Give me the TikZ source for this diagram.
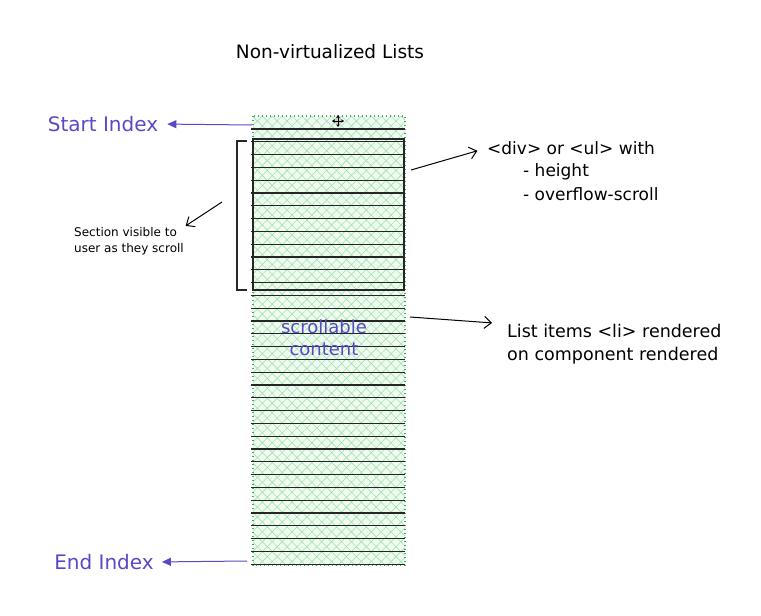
\documentclass[tikz,border=0pt]{standalone}
\usepackage{fontspec}
\setmainfont{DejaVu Sans}
\usepackage{xcolor}
\usetikzlibrary{arrows.meta,patterns.meta}

\definecolor{indexviolet}{RGB}{92,72,196}
\definecolor{listfill}{RGB}{240,251,242}
\definecolor{hatchgreen}{RGB}{160,228,172}
\definecolor{dotgreen}{RGB}{70,170,90}

\tikzset{
	label/.style={inner sep=0pt, font=\fontsize{17}{22}\selectfont},
	violetlabel/.style={inner sep=0pt, text=indexviolet, font=\fontsize{20}{24}\selectfont},
	itemline/.style={line width=1.2pt, black!85},
	barbarrow/.style={-{Straight Barb[length=7pt,width=12pt,line width=1pt]}, line width=1pt},
	indexarrow/.style={-{Triangle[length=9pt,width=8pt]}, indexviolet, line width=1pt}
}

\begin{document}
\begin{tikzpicture}[x=1pt,y=-1pt]
	\useasboundingbox (0,0) rectangle (761,616);

	\node[label, font=\fontsize{18.5}{22}\selectfont] (title) at (330,52) {Non-virtualized Lists};

	\fill[listfill] (253,116) rectangle (405,565);
	\fill[pattern={Hatch[angle=45,distance=7pt,line width=0.6pt]}, pattern color=hatchgreen] (253,116) rectangle (405,565);
	\draw[dotgreen, line width=1.2pt, dash pattern=on 1.4pt off 2.6pt] (253,116) rectangle (405,565);

	\foreach \i in {0,...,34}
		\draw[itemline] (251,129+12.8*\i) -- (405,129+12.8*\i);

	\draw[line width=1.3pt, black!85] (253,139) rectangle (404,290);

	\draw[line width=1.1pt, black!85] (247,141) -- (237,141) -- (237,290) -- (247,290);

	\fill[black!20] (338,121) circle [radius=4pt];
	\draw[{Triangle[length=2.5pt,width=3.5pt]}-{Triangle[length=2.5pt,width=3.5pt]}, line width=0.9pt] (332,121) -- (344,121);
	\draw[{Triangle[length=2.5pt,width=3.5pt]}-{Triangle[length=2.5pt,width=3.5pt]}, line width=0.9pt] (338,115) -- (338,127);

	\node[violetlabel] (start) at (103,124) {Start Index};
	\node[violetlabel] (end) at (104,562) {End Index};
	\node[violetlabel, font=\fontsize{18}{22}\selectfont, align=center] (scroll) at (324,338) {scrollable\\content};

	\node[label, font=\fontsize{12}{16}\selectfont, align=left] (section) at (129,241) {Section visible to\\user as they scroll};

	\node[label, anchor=west] (div) at (487,148) {<div> or <ul> with};
	\node[label, anchor=west] (height) at (523,172) {- height};
	\node[label, anchor=west] (overflow) at (523,194) {- overflow-scroll};

	\node[label, font=\fontsize{17.5}{23}\selectfont, anchor=north west, align=left] (items) at (507,324) {List items <li> rendered\\on component rendered};

	\coordinate (starttop) at (252,125);
	\coordinate (endbottom) at (247,561);
	\coordinate (bracket) at (222,202);
	\coordinate (viewright) at (411,170);
	\coordinate (listright) at (410,317);

	\draw[indexarrow, shorten >=9pt] (starttop) -- (start.east);
	\draw[indexarrow, shorten >=8pt] (endbottom) -- (end.east);
	\draw[barbarrow, shorten >=2pt] (bracket) -- (section.north east);
	\draw[barbarrow, shorten >=10pt] (viewright) -- (div.west);
	\draw[barbarrow, shorten >=15pt] (listright) -- (items.north west);
\end{tikzpicture}
\end{document}
